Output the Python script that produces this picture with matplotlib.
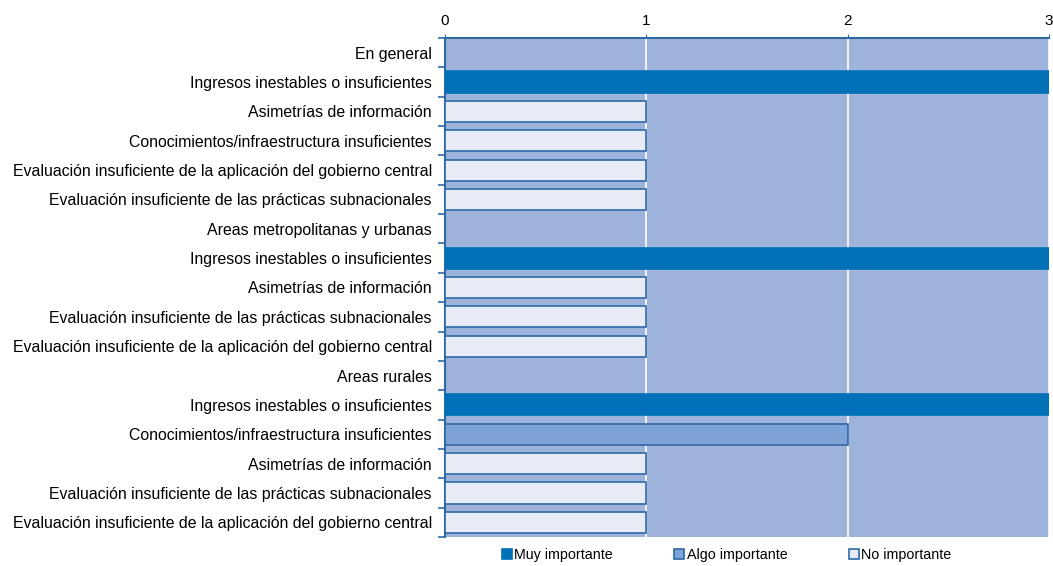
import numpy as np
import matplotlib.pyplot as plt
import matplotlib.patches as mpatches

plt.rcParams['font.family'] = ['Liberation Sans', 'DejaVu Sans']

# Data
labels = [
    'En general',
    'Ingresos inestables o insuficientes',
    'Asimetrías de información',
    'Conocimientos/infraestructura insuficientes',
    'Evaluación insuficiente de la aplicación del gobierno central',
    'Evaluación insuficiente de las prácticas subnacionales',
    'Areas metropolitanas y urbanas',
    'Ingresos inestables o insuficientes',
    'Asimetrías de información',
    'Evaluación insuficiente de las prácticas subnacionales',
    'Evaluación insuficiente de la aplicación del gobierno central',
    'Areas rurales',
    'Ingresos inestables o insuficientes',
    'Conocimientos/infraestructura insuficientes',
    'Asimetrías de información',
    'Evaluación insuficiente de las prácticas subnacionales',
    'Evaluación insuficiente de la aplicación del gobierno central',
]
values = [0, 3, 1, 1, 1, 1, 0, 3, 1, 1, 1, 0, 3, 2, 1, 1, 1]
# category of each bar: 0 = Muy importante, 1 = Algo importante, 2 = No importante
category = [2, 0, 2, 2, 2, 2, 2, 0, 2, 2, 2, 2, 0, 1, 2, 2, 2]
series_names = ['Muy importante', 'Algo importante', 'No importante']

face_colors = ['#0070B8', '#7EA3D6', '#E6EBF5']
edge_colors = ['#0070B8', '#2E69A6', '#2E69A6']
bg_color = '#9DB3DB'
axis_color = '#2E69A6'

fig = plt.figure(figsize=(10.53, 5.66), dpi=100)
ax = fig.add_axes([0.4226, 0.0512, 0.5736, 0.8817])
ax.set_facecolor(bg_color)

y = np.arange(len(labels))
for i, (v, c) in enumerate(zip(values, category)):
    if v == 0:
        continue
    ax.barh(y[i], v, height=0.72, color=face_colors[c],
            edgecolor=edge_colors[c], linewidth=1.2, zorder=3)

ax.set_xlim(0, 3)
ax.set_ylim(len(labels) - 0.5, -0.5)
ax.set_xticks([0, 1, 2, 3])
ax.xaxis.tick_top()
ax.tick_params(axis='x', length=3, color=axis_color, labelsize=11, pad=4)
ax.grid(axis='x', color='white', linewidth=1.2, zorder=1)

ax.set_yticks(y)
ax.set_yticklabels(labels, fontsize=11.4)
ax.tick_params(axis='y', length=0, pad=9.5)
ax.set_yticks(np.arange(len(labels) + 1) - 0.5, minor=True)
ax.tick_params(axis='y', which='minor', length=5, color=axis_color, width=1.2)

for s in ['right', 'bottom']:
    ax.spines[s].set_visible(False)
for s in ['left', 'top']:
    ax.spines[s].set_color(axis_color)
    ax.spines[s].set_linewidth(1.5)

handles = [mpatches.Patch(facecolor=face_colors[k], edgecolor=edge_colors[k], linewidth=1.2)
           for k in range(3)]
fig.legend(handles, series_names, loc='lower center', ncol=3, frameon=False,
           bbox_to_anchor=(0.69, -0.015), fontsize=10.3, handlelength=0.7, handleheight=0.7,
           handletextpad=0.15, columnspacing=4.3)

fig.savefig('out.png', dpi=100)
